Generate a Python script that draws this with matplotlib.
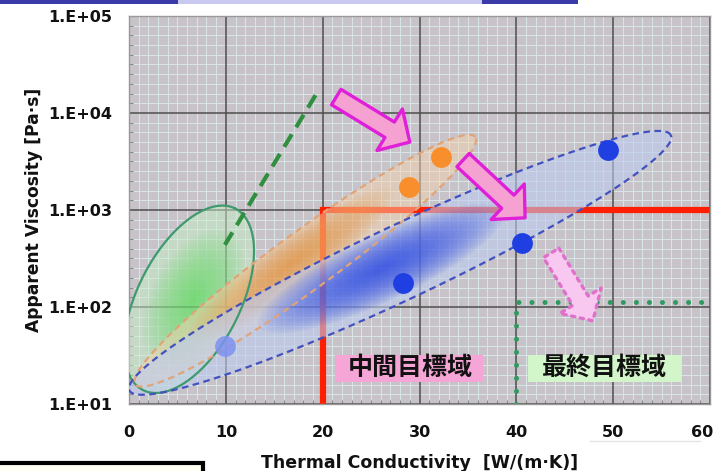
import numpy as np
import matplotlib.pyplot as plt
from matplotlib.ticker import FixedLocator, MultipleLocator, NullFormatter
from matplotlib.patches import Rectangle
from matplotlib.lines import Line2D
from matplotlib.transforms import ScaledTranslation

# ---- data ----
x_ticks = [0, 10, 20, 30, 40, 50, 60]
y_ticks = [1e1, 1e2, 1e3, 1e4, 1e5]
y_tick_labels = ['1.E+01', '1.E+02', '1.E+03', '1.E+04', '1.E+05']

blue_x = [28.3, 40.6, 49.5]
blue_y = [177, 457, 4170]
pale_x = [9.9]
pale_y = [40]
orange_x = [28.9, 32.2]
orange_y = [1725, 3515]

# target corners (x, viscosity)
mid_target = [20, 1000]
final_target = [40, 113]

# green dashed trend
trend_x = [9.9, 19.4]
trend_y = [437, 16070]

# arrows: tail -> tip
arrow_tail_x = [21.4, 34.5, 43.6]
arrow_tail_y = [14600, 3270, 361]
arrow_tip_x = [29.0, 40.9, 47.9]
arrow_tip_y = [5010, 830, 72]

# regions (green, orange, blue): centre x, centre y, half length, half width, tilt
region_cx = [6.2, 18.2, 28.0]
region_cy = [120, 300, 285]
region_a = [10.5, 21.7, 30.9]
region_b = [5.3, 3.0, 3.8]
region_ang = [63, 36, 25.2]

labels = ['中間目標域', '最終目標域']
label_x = [29.0, 49.1]
label_y = [23.5, 23.5]
box_x0 = [21.3, 41.2]
box_x1 = [36.6, 57.0]
box_y0 = 16.9
box_y1 = 32.0


def ellipse(cx, cy, a, b, ang, k=1.0, n=240):
    # 10 x-units ~ one decade on screen, so work in (x, 10*log10 y)
    t = np.linspace(0, 2 * np.pi, n)
    th = np.radians(ang)
    u = k * a * np.cos(t)
    v = k * b * np.sin(t)
    X = cx + u * np.cos(th) - v * np.sin(th)
    Y = 10 * np.log10(cy) + u * np.sin(th) + v * np.cos(th)
    return X, 10 ** (Y / 10)


fig = plt.figure(figsize=(7.16, 4.71), dpi=100)
ax = fig.add_axes([0.1802, 0.1423, 0.8114, 0.8238])
ax.set_yscale('log')
ax.set_xlim(0, 60)
ax.set_ylim(1e1, 1e5)
ax.set_facecolor('#c7c3c8')

ax.xaxis.set_major_locator(FixedLocator(x_ticks))
ax.xaxis.set_minor_locator(MultipleLocator(1))
ax.yaxis.set_major_locator(FixedLocator(y_ticks))
ax.yaxis.set_minor_locator(FixedLocator(10 ** (np.arange(10, 51) / 10)))
ax.yaxis.set_minor_formatter(NullFormatter())
ax.set_yticklabels(y_tick_labels)
ax.set_axisbelow(True)
ax.grid(which='minor', color='#d9e7e8', lw=0.7)
for xv in x_ticks:
    ax.axvline(xv, color='#4e4e4e', lw=1.1, zorder=1)
for yv in y_ticks:
    ax.axhline(yv, color='#4e4e4e', lw=1.1, zorder=1)
ax.tick_params(which='major', length=0, labelsize=11.5, colors='#111111')
ax.tick_params(axis='x', which='major', pad=15)
ax.tick_params(axis='y', which='major', pad=12)
ax.tick_params(which='minor', direction='in', length=3, color='#777777')
for lab in ax.get_xticklabels() + ax.get_yticklabels():
    lab.set_fontweight('bold')
# last x label sits at the very edge of the page; nudge it inside
last = ax.get_xticklabels()[-1]
last.set_transform(last.get_transform() + ScaledTranslation(-6 / 72, 0, fig.dpi_scale_trans))
for s in ax.spines.values():
    s.set_color('#999999')
    s.set_linewidth(1)

ax.set_xlabel('Thermal Conductivity  [W/(m·K)]', fontsize=12.5, fontweight='bold', color='#111111')
ax.set_ylabel('Apparent Viscosity [Pa·s]', fontsize=12.3, fontweight='bold', color='#111111')
ax.xaxis.set_label_coords(0.5, -0.13)
ax.yaxis.set_label_coords(-0.148, 0.5)

# target lines
ax.plot([mid_target[0], mid_target[0], 60], [10, mid_target[1], mid_target[1]],
        color='#ff1e00', lw=4.5, solid_joinstyle='miter', zorder=2)
ax.plot([final_target[0], final_target[0], 60], [10, final_target[1], final_target[1]],
        color='#2e9a60', lw=3.6, linestyle=(0, (0.01, 2.6)), dash_capstyle='round', zorder=2)

# regions
base_col = ['#c6eec6', '#f6d2ae', '#bccbf0']
core_col = ['#5ada5a', '#f59a48', '#2f4ee8']
edge_col = ['#3f9a6e', '#e0a478', '#4351c0']
edge_ls = ['-', (0, (3, 2)), (0, (3, 2))]
base_alpha = [0.5, 0.5, 0.6]
core_alpha = [0.03, 0.045, 0.05]
core_shift = [(0.5, 0.0), (-1.5, -0.4), (-2.0, -0.6)]
core_scale = [(0.75, 0.85), (0.6, 0.9), (0.45, 0.9)]
for i in range(3):
    X, Y = ellipse(region_cx[i], region_cy[i], region_a[i], region_b[i], region_ang[i])
    outer = ax.fill(X, Y, color=base_col[i], alpha=base_alpha[i], lw=0, zorder=3)[0]
    ccx = region_cx[i] + core_shift[i][0]
    ccy = region_cy[i] * 10 ** (core_shift[i][1] / 10)
    for k in np.linspace(1, 0.05, 30):
        cx_, cy_ = ellipse(ccx, ccy, region_a[i] * core_scale[i][0],
                           region_b[i] * core_scale[i][1], region_ang[i], k)
        p = ax.fill(cx_, cy_, color=core_col[i], alpha=core_alpha[i], lw=0, zorder=3)[0]
        p.set_clip_path(outer)
    ax.plot(X, Y, color=edge_col[i], lw=1.6, linestyle=edge_ls[i], zorder=4)

# green trend line
ax.plot(trend_x, trend_y, color='#2f8f3f', lw=3, linestyle=(0, (3.5, 2)), zorder=4)

# points
ax.plot(pale_x, pale_y, 'o', ms=15, color='#7f92f0', alpha=0.85, mec='none', zorder=5)
ax.plot(blue_x, blue_y, 'o', ms=15, color='#1f3fe2', mec='none', zorder=5)
ax.plot(orange_x, orange_y, 'o', ms=15, color='#f88f2c', mec='none', zorder=5)

# arrows
arrow_fc = ['#f5a2d2', '#f5a2d2', '#f8c8f0']
arrow_ec = ['#e020d8', '#e020d8', '#e070cc']
arrow_ls = ['-', '-', ':']
for i in range(3):
    ax.annotate('', xy=(arrow_tip_x[i], arrow_tip_y[i]),
                xytext=(arrow_tail_x[i], arrow_tail_y[i]),
                arrowprops=dict(arrowstyle='simple,head_length=0.85,head_width=1.75,tail_width=0.65',
                                fc=arrow_fc[i], ec=arrow_ec[i], lw=2.4, linestyle=arrow_ls[i],
                                shrinkA=0, shrinkB=0, mutation_scale=20),
                zorder=6)

# target labels
box_col = ['#f6a6d6', '#d2f5ca']
for i in range(2):
    ax.add_patch(Rectangle((box_x0[i], box_y0), box_x1[i] - box_x0[i], box_y1 - box_y0,
                           facecolor=box_col[i], edgecolor='none', zorder=6))
    ax.text(label_x[i], label_y[i], labels[i], fontsize=18, fontweight='bold',
            family=['Noto Sans CJK JP', 'DejaVu Sans'], color='#111111',
            ha='center', va='center', zorder=7)

# page decorations around the chart
fig.add_artist(Rectangle((0, 1 - 4 / 471), 178 / 716, 4 / 471, transform=fig.transFigure,
                         facecolor='#3a3aa8', edgecolor='none'))
fig.add_artist(Rectangle((178 / 716, 1 - 4 / 471), 304 / 716, 4 / 471, transform=fig.transFigure,
                         facecolor='#c8c8f0', edgecolor='none'))
fig.add_artist(Rectangle((482 / 716, 1 - 4 / 471), 96 / 716, 4 / 471, transform=fig.transFigure,
                         facecolor='#3a3aa8', edgecolor='none'))
fig.add_artist(Rectangle((-0.01, -0.01), 203 / 716 + 0.01, 8 / 471 + 0.01, transform=fig.transFigure,
                         facecolor='#fffff4', edgecolor='black', lw=3))
fig.add_artist(Line2D([590 / 716, 700 / 716], [1 - 441 / 471] * 2, transform=fig.transFigure,
                      color='#e4e4e4', lw=1))

fig.savefig('out.png', dpi=100)
